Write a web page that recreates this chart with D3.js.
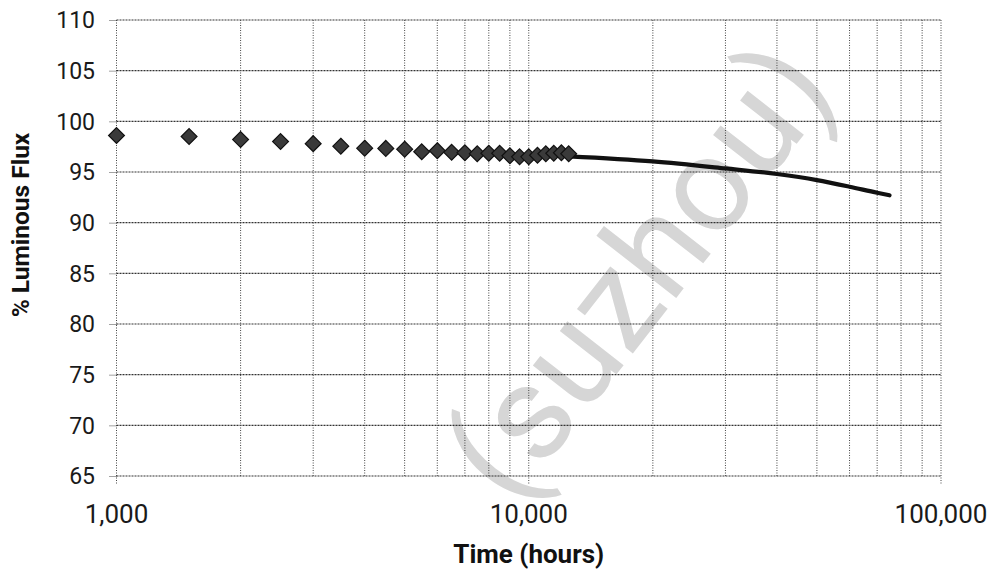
<!DOCTYPE html>
<html>
<head>
<meta charset="utf-8">
<script src="https://cdn.jsdelivr.net/npm/d3@7/dist/d3.min.js"></script>
<style>
  html, body { margin: 0; padding: 0; background: #fff; }
  svg { display: block; font-family: Roboto, "Noto Sans", Arial, sans-serif; }
</style>
</head>
<body>
<svg id="chart" width="994" height="572"></svg>
<script>
// ---- data ----
const measuredHours = [1000, 1500, 2000, 2500, 3000, 3500, 4000, 4500, 5000, 5500, 6000, 6500,
  7000, 7500, 8000, 8500, 9000, 9500, 10000, 10500, 11000, 11500, 12000, 12500];
const measuredFlux = [98.6, 98.5, 98.2, 98.0, 97.8, 97.55, 97.35, 97.33, 97.25, 97.0, 97.1, 96.95,
  96.9, 96.8, 96.85, 96.85, 96.6, 96.5, 96.5, 96.65, 96.8, 96.85, 96.9, 96.8];
const projHours = [12500, 20000, 30000, 40000, 50000, 60000, 70000, 75000];
const projFlux = [96.55, 96.05, 95.35, 94.8, 94.2, 93.55, 92.95, 92.7];
const yTicks = [65, 70, 75, 80, 85, 90, 95, 100, 105, 110];
const xMajorTicks = [1000, 10000, 100000];
const xMinorTicks = [2000, 3000, 4000, 5000, 6000, 7000, 8000, 9000,
  20000, 30000, 40000, 50000, 60000, 70000, 80000, 90000];
const xTitle = "Time (hours)";
const yTitle = "% Luminous Flux";
const watermark = "(suzhou)";

// ---- layout ----
const svg = d3.select("#chart");
const L = 116.5, R = 941, T = 20, B = 476;
const x = d3.scaleLog().domain([1000, 100000]).range([L, R]);
const y = d3.scaleLinear().domain([65, 110]).range([B, T]);
const fmt = d3.format(",");

// watermark (behind)
svg.append("text").attr("transform", "translate(638,270) rotate(-52)")
  .attr("text-anchor", "middle").attr("dy", "0.35em")
  .attr("font-size", 135).attr("fill", "#d6d6d6")
  .text(watermark);

// y ticks
const gY = svg.append("g").attr("transform", `translate(${L},0)`)
  .call(d3.axisLeft(y).tickValues(yTicks).tickSize(8).tickFormat(""));
gY.select(".domain").remove();
gY.selectAll(".tick line").attr("stroke", "#444").attr("stroke-dasharray", "1,1");

// horizontal grid
svg.append("g").selectAll("line").data(yTicks).join("line")
  .attr("x1", L).attr("x2", R).attr("y1", d => y(d)).attr("y2", d => y(d))
  .attr("stroke", "#333").attr("stroke-width", 1.1).attr("stroke-dasharray", "2,1");

// vertical grid
const allX = xMajorTicks.concat(xMinorTicks);
svg.append("g").selectAll("line").data(allX).join("line")
  .attr("x1", d => x(d)).attr("x2", d => x(d))
  .attr("y1", T).attr("y2", d => xMajorTicks.includes(d) ? B + 9 : B)
  .attr("stroke", "#444").attr("stroke-width", 1).attr("stroke-dasharray", "1,1.5");

// y labels
svg.append("g").selectAll("text").data(yTicks).join("text")
  .attr("x", 95).attr("y", d => y(d)).attr("dy", "0.36em")
  .attr("text-anchor", "end").attr("font-size", 23).attr("fill", "#1a1a1a")
  .text(d => d);

// x labels
svg.append("g").selectAll("text").data(xMajorTicks).join("text")
  .attr("x", d => x(d)).attr("y", 523)
  .attr("text-anchor", "middle").attr("font-size", 26).attr("fill", "#1a1a1a")
  .text(d => fmt(d));

// titles
svg.append("text").attr("x", x(10000)).attr("y", 563)
  .attr("text-anchor", "middle").attr("font-size", 26).attr("font-weight", "bold")
  .attr("fill", "#111").text(xTitle);
svg.append("text").attr("transform", "translate(29,225) rotate(-90)")
  .attr("text-anchor", "middle").attr("font-size", 24.5).attr("font-weight", "bold")
  .attr("fill", "#111").text(yTitle);

// projection line
svg.append("path").datum(projHours.map((h, i) => [h, projFlux[i]]))
  .attr("d", d3.line().x(d => x(d[0])).y(d => y(d[1])).curve(d3.curveMonotoneX))
  .attr("fill", "none").attr("stroke", "#111").attr("stroke-width", 4.2)
  .attr("stroke-linecap", "round");

// markers
const sym = d3.symbol().type(d3.symbolDiamond2).size(160);
svg.append("g").selectAll("path").data(measuredHours.map((h, i) => [h, measuredFlux[i]]))
  .join("path")
  .attr("transform", d => `translate(${x(d[0])},${y(d[1])})`)
  .attr("d", sym)
  .attr("fill", "#3a3a3a").attr("stroke", "#111").attr("stroke-width", 1.2);
</script>
</body>
</html>
